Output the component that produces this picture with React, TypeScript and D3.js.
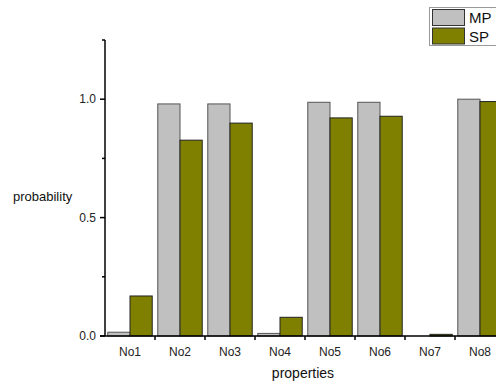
import * as d3 from "d3";

const categories = ["No1", "No2", "No3", "No4", "No5", "No6", "No7", "No8"];
const mpValues = [0.016, 0.98, 0.98, 0.011, 0.987, 0.987, 0, 1.0];
const spValues = [0.169, 0.827, 0.899, 0.079, 0.921, 0.928, 0.007, 0.99];
const seriesNames = ["MP", "SP"];
const seriesColors = ["#c0c0c0", "#808000"];
const yTicks = [0, 0.5, 1.0];
const yMinorTicks = [0.25, 0.75, 1.25];

const W = 496;
const H = 383;
const left = 105;
const right = 505;
const top = 40;
const bottom = 336;
const font = "Arial, 'Liberation Sans', sans-serif";

export default function App() {
  const x = d3.scaleBand().domain(categories).range([left, right]).paddingInner(0).paddingOuter(0);
  const sub = d3.scaleBand().domain(seriesNames).range([0, x.bandwidth()]).paddingOuter(0.125).paddingInner(0);
  const y = d3.scaleLinear().domain([0, 1.25]).range([bottom, top]);

  const series = [mpValues, spValues];

  return (
    <svg width={W} height={H} style={{ position: "absolute", left: 0, top: 0, background: "#fff" }}>
      {series.map((vals, si) =>
        vals.map((v, i) => (
          <rect
            key={`${si}-${i}`}
            x={(x(categories[i]) ?? 0) + (sub(seriesNames[si]) ?? 0)}
            y={y(v)}
            width={sub.bandwidth()}
            height={bottom - y(v)}
            fill={seriesColors[si]}
            stroke={si === 0 ? "#555" : "#222"}
            strokeWidth={1}
          />
        ))
      )}

      {/* y axis */}
      <line x1={left} x2={left} y1={top} y2={bottom} stroke="#000" strokeWidth={1.5} />
      {yTicks.map((t) => (
        <g key={t}>
          <line x1={left - 5} x2={left} y1={y(t)} y2={y(t)} stroke="#000" strokeWidth={1.5} />
          <text x={left - 9} y={y(t)} dy="0.35em" textAnchor="end" fontSize={12} fontFamily={font} fill="#222">
            {d3.format(".1f")(t)}
          </text>
        </g>
      ))}
      {yMinorTicks.map((t) => (
        <line key={t} x1={left - 3} x2={left} y1={y(t)} y2={y(t)} stroke="#000" strokeWidth={1.5} />
      ))}

      {/* x axis */}
      <line x1={left - 5} x2={W} y1={bottom} y2={bottom} stroke="#000" strokeWidth={1.5} />
      {categories.map((c) => (
        <g key={c}>
          <line x1={(x(c) ?? 0) + x.bandwidth()} x2={(x(c) ?? 0) + x.bandwidth()} y1={bottom} y2={bottom + 4} stroke="#000" strokeWidth={1.5} />
          <text x={(x(c) ?? 0) + x.bandwidth() / 2} y={bottom + 20} textAnchor="middle" fontSize={12} fontFamily={font} fill="#222">
            {c}
          </text>
        </g>
      ))}

      <text x={13} y={201} fontSize={13} fontFamily={font} fill="#111">probability</text>
      <text x={(left + right) / 2 - 2} y={378} textAnchor="middle" fontSize={14} fontFamily={font} fill="#111">properties</text>

      {/* legend */}
      <rect x={429.5} y={7.5} width={80} height={38} fill="#fff" stroke="#999" strokeWidth={1} />
      {seriesNames.map((s, i) => (
        <g key={s}>
          <rect x={432.5} y={9.5 + i * 18.5} width={32} height={16} fill={seriesColors[i]} stroke="#333" strokeWidth={1} />
          <text x={469} y={23 + i * 18.5} fontSize={15} fontFamily={font} fill="#111">{s}</text>
        </g>
      ))}
    </svg>
  );
}
